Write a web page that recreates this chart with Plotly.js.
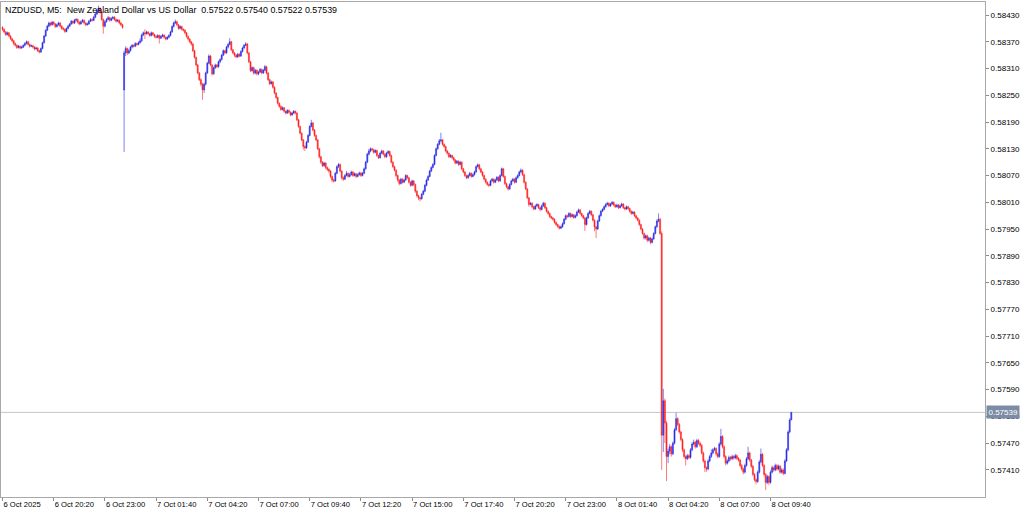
<!DOCTYPE html>
<html><head><meta charset="utf-8">
<script src="https://cdn.plot.ly/plotly-3.0.1.min.js"></script>
<style>html,body{margin:0;padding:0;background:#fff}#chart{width:1024px;height:511px}</style>
</head><body><div id="chart"></div>
<script>
// NZDUSD M5 bars, prices in points (1e-5), first bar 6 Oct 17:40
const opens = [
58402,58398,58392,58386,58390,58383,58377,58372,58366,58362,
58357,58360,58356,58358,58362,58366,58370,58364,58360,58361,
58358,58354,58356,58350,58347,58355,58368,58383,58396,58405,
58412,58408,58414,58410,58404,58408,58412,58405,58400,58398,
58393,58400,58405,58410,58416,58412,58418,58420,58414,58410,
58415,58418,58412,58408,58410,58416,58420,58418,58425,58432,
58440,58445,58436,58420,58405,58415,58420,58424,58418,58422,
58425,58420,58416,58418,58412,58408,58262,58345,58355,58345,
58350,58358,58362,58360,58366,58364,58368,58372,58385,58390,
58388,58392,58388,58384,58390,58386,58382,58380,58384,58378,
58382,58385,58380,58376,58380,58384,58392,58404,58412,58415,
58408,58400,58404,58398,58396,58390,58382,58376,58370,58365,
58350,58335,58318,58300,58285,58275,58262,58275,58300,58322,
58338,58318,58298,58312,58318,58314,58325,58330,58340,58350,
58345,58358,58364,58370,58352,58345,58340,58336,58342,58338,
58348,58356,58362,58365,58345,58325,58305,58312,58300,58306,
58298,58302,58308,58300,58306,58314,58300,58285,58276,58280,
58268,58255,58245,58232,58225,58218,58222,58214,58210,58216,
58212,58206,58210,58214,58210,58195,58180,58165,58150,58135,
58132,58145,58160,58180,58188,58172,58160,58150,58130,58112,
58100,58092,58098,58088,58084,58080,58068,58060,58058,58075,
58090,58095,58080,58065,58062,58070,58075,58068,58072,58078,
58070,58074,58068,58072,58076,58070,58075,58085,58100,58118,
58125,58130,58128,58122,58126,58115,58110,58120,58125,58118,
58112,58120,58124,58115,58100,58090,58082,58070,58060,58052,
58062,58055,58060,58070,58065,58055,58048,58058,58050,58035,
58025,58020,58018,58028,58035,58048,58060,58068,58080,58088,
58095,58115,58130,58140,58148,58150,58140,58135,58125,58120,
58112,58115,58110,58105,58098,58102,58095,58100,58085,58078,
58070,58065,58070,58075,58068,58072,58078,58090,58094,58085,
58078,58070,58062,58055,58050,58048,58058,58062,58055,58060,
58066,58058,58070,58085,58068,58052,58045,58040,58050,58058,
58062,58055,58065,58070,58078,58082,58072,58055,58040,58020,
58005,58008,58000,57995,58002,58005,57998,57994,58002,58008,
57998,57990,57985,57978,57975,57972,57965,57960,57956,57952,
57955,57962,57972,57980,57978,57985,57978,57982,57976,57980,
57988,57993,57985,57980,57975,57960,57975,57985,57990,57982,
57970,57955,57950,57968,57980,57990,57994,58000,58005,58008,
58002,58006,58010,58004,58000,58004,57998,58002,58006,57998,
57995,58000,57996,57990,57985,57988,57980,57975,57970,57960,
57950,57940,57930,57935,57925,57930,57920,57928,57940,57955,
57968,57972,57940,57488,57565,57515,57440,57452,57462,57446,
57470,57500,57525,57512,57495,57478,57455,57440,57435,57442,
57438,57455,57468,57472,57462,57476,57470,57465,57448,57430,
57415,57412,57430,57440,57448,57455,57458,57446,57440,57468,
57485,57462,57440,57425,57430,57438,57435,57440,57437,57442,
57436,57432,57420,57412,57405,57420,57435,57448,57432,57418,
57400,57388,57384,57405,57428,57445,57420,57400,57382,57395,
57382,57405,57415,57410,57420,57412,57418,57405,57410,57402,
57430,57455,57495,57522];
const highs = [
58405,58400,58394,58393,58392,58385,58379,58374,58368,58364,
58363,58362,58361,58364,58369,58373,58372,58366,58364,58363,
58360,58359,58358,58352,58357,58370,58385,58398,58408,58415,
58414,58417,58416,58412,58411,58415,58414,58407,58403,58400,
58402,58408,58412,58419,58418,58421,58423,58422,58416,58418,
58421,58420,58414,58413,58419,58423,58422,58428,58435,58444,
58451,58447,58438,58422,58418,58423,58428,58426,58425,58428,
58427,58422,58421,58420,58414,58410,58350,58360,58357,58354,
58361,58365,58364,58369,58368,58371,58378,58388,58393,58398,
58395,58394,58390,58393,58392,58388,58385,58387,58386,58385,
58388,58387,58382,58383,58387,58395,58407,58415,58420,58417,
58410,58407,58406,58400,58398,58392,58384,58378,58372,58367,
58352,58337,58320,58302,58288,58278,58278,58303,58325,58342,
58340,58320,58315,58321,58320,58328,58333,58343,58353,58352,
58361,58367,58378,58372,58354,58347,58342,58345,58344,58351,
58359,58365,58369,58367,58347,58327,58315,58314,58309,58308,
58305,58311,58310,58309,58318,58316,58302,58287,58283,58282,
58270,58257,58247,58234,58227,58225,58224,58216,58219,58218,
58214,58213,58217,58216,58212,58197,58182,58167,58152,58138,
58148,58163,58183,58195,58190,58174,58162,58152,58132,58114,
58102,58101,58100,58090,58086,58082,58070,58063,58078,58093,
58098,58097,58082,58068,58073,58080,58077,58076,58081,58080,
58077,58076,58075,58079,58078,58078,58088,58103,58121,58130,
58133,58132,58130,58129,58128,58117,58123,58128,58127,58120,
58123,58127,58126,58117,58102,58092,58084,58072,58062,58065,
58064,58063,58073,58072,58067,58057,58061,58060,58052,58037,
58027,58022,58031,58038,58051,58063,58071,58083,58091,58098,
58118,58133,58143,58152,58166,58152,58142,58137,58127,58122,
58118,58117,58112,58107,58105,58104,58103,58102,58087,58080,
58072,58073,58078,58077,58075,58081,58093,58097,58096,58087,
58080,58072,58064,58057,58052,58061,58065,58064,58063,58069,
58068,58073,58088,58087,58070,58054,58047,58053,58061,58065,
58064,58068,58073,58081,58086,58084,58074,58057,58042,58022,
58011,58010,58002,58005,58008,58007,58000,58005,58011,58010,
58000,57992,57987,57980,57977,57974,57967,57962,57958,57958,
57965,57975,57983,57982,57988,57987,57985,57984,57983,57991,
57996,57995,57987,57982,57977,57978,57988,57993,57992,57984,
57972,57957,57971,57983,57993,57997,58003,58008,58011,58010,
58009,58013,58012,58006,58007,58006,58005,58009,58008,58000,
58003,58002,57998,57992,57991,57990,57982,57977,57972,57962,
57952,57942,57938,57937,57933,57932,57931,57943,57958,57972,
57985,57975,57945,57592,57570,57520,57458,57468,57465,57474,
57504,57538,57528,57515,57498,57481,57458,57443,57446,57445,
57459,57472,57478,57475,57480,57479,57473,57468,57451,57433,
57418,57434,57444,57456,57459,57462,57461,57449,57472,57502,
57488,57465,57443,57434,57442,57441,57444,57443,57446,57445,
57439,57435,57423,57415,57424,57439,57462,57451,57435,57421,
57403,57391,57409,57432,57458,57448,57423,57403,57399,57398,
57409,57420,57418,57424,57423,57422,57421,57414,57413,57434,
57459,57499,57526,57540];
const lows = [
58394,58389,58383,58384,58380,58374,58369,58362,58359,58354,
58355,58353,58354,58356,58360,58364,58362,58357,58358,58355,
58351,58352,58347,58344,58345,58353,58366,58381,58394,58403,
58405,58406,58407,58401,58402,58406,58402,58397,58395,58390,
58391,58398,58403,58408,58409,58410,58415,58411,58407,58408,
58413,58409,58405,58406,58408,58414,58415,58416,58423,58430,
58438,58433,58417,58388,58402,58413,58418,58415,58416,58420,
58417,58413,58414,58409,58405,58399,58123,58338,58340,58342,
58348,58355,58357,58358,58361,58362,58366,58370,58383,58376,
58386,58385,58381,58382,58383,58379,58377,58378,58366,58376,
58380,58377,58373,58374,58378,58382,58390,58402,58410,58405,
58397,58398,58395,58393,58387,58379,58373,58367,58361,58347,
58332,58315,58297,58282,58270,58240,58255,58272,58298,58320,
58315,58294,58296,58309,58311,58312,58322,58328,58338,58342,
58343,58355,58362,58349,58342,58336,58333,58334,58335,58336,
58346,58354,58360,58342,58322,58302,58303,58296,58297,58294,
58295,58300,58297,58298,58304,58297,58282,58273,58274,58265,
58252,58242,58229,58222,58215,58216,58211,58207,58208,58209,
58203,58204,58208,58207,58192,58177,58162,58147,58128,58125,
58130,58143,58158,58178,58169,58157,58147,58127,58108,58096,
58089,58090,58084,58080,58076,58064,58055,58054,58056,58073,
58087,58077,58061,58058,58060,58068,58065,58066,58070,58067,
58068,58064,58066,58070,58067,58068,58073,58083,58098,58115,
58122,58124,58119,58120,58112,58107,58108,58118,58115,58109,
58110,58118,58112,58097,58087,58079,58066,58056,58048,58050,
58052,58053,58058,58062,58052,58045,58046,58046,58031,58021,
58015,58012,58016,58026,58033,58046,58058,58066,58078,58086,
58093,58113,58128,58138,58145,58137,58132,58122,58117,58109,
58110,58107,58102,58095,58096,58092,58093,58082,58075,58067,
58062,58063,58068,58065,58066,58070,58076,58088,58082,58075,
58067,58059,58052,58047,58044,58046,58056,58052,58053,58058,
58055,58056,58068,58065,58049,58042,58036,58038,58048,58056,
58052,58053,58063,58068,58076,58069,58052,58037,58017,58000,
58003,57997,57992,57993,58000,57995,57990,57992,58000,57995,
57987,57982,57975,57972,57969,57962,57957,57953,57949,57950,
57953,57960,57970,57975,57976,57975,57976,57973,57974,57978,
57986,57982,57977,57972,57946,57958,57973,57983,57979,57967,
57945,57930,57948,57966,57978,57988,57992,57998,58003,57999,
58000,58004,58001,57997,57998,57995,57996,58000,57995,57992,
57993,57993,57987,57982,57983,57977,57972,57967,57957,57947,
57937,57926,57927,57921,57922,57916,57918,57926,57938,57953,
57965,57937,57410,57450,57470,57385,57425,57445,57440,57443,
57467,57497,57508,57491,57474,57450,57436,57420,57432,57434,
57435,57452,57465,57458,57459,57466,57461,57444,57426,57405,
57406,57409,57427,57437,57445,57452,57442,57436,57437,57465,
57458,57436,57420,57422,57427,57431,57432,57433,57434,57432,
57428,57416,57408,57400,57402,57417,57432,57428,57414,57396,
57384,57378,57381,57402,57425,57416,57395,57365,57378,57376,
57379,57402,57406,57407,57408,57409,57401,57402,57398,57400,
57428,57452,57492,57522];
const closes = [
58398,58392,58386,58390,58383,58377,58372,58366,58362,58357,
58360,58356,58358,58362,58366,58370,58364,58360,58361,58358,
58354,58356,58350,58347,58355,58368,58383,58396,58405,58412,
58408,58414,58410,58404,58408,58412,58405,58400,58398,58393,
58400,58405,58410,58416,58412,58418,58420,58414,58410,58415,
58418,58412,58408,58410,58416,58420,58418,58425,58432,58440,
58445,58436,58420,58405,58415,58420,58424,58418,58422,58425,
58420,58416,58418,58412,58408,58402,58345,58355,58345,58350,
58358,58362,58360,58366,58364,58368,58372,58385,58390,58388,
58392,58388,58384,58390,58386,58382,58380,58384,58378,58382,
58385,58380,58376,58380,58384,58392,58404,58412,58415,58408,
58400,58404,58398,58396,58390,58382,58376,58370,58365,58350,
58335,58318,58300,58285,58275,58262,58275,58300,58322,58338,
58318,58298,58312,58318,58314,58325,58330,58340,58350,58345,
58358,58364,58370,58352,58345,58340,58336,58342,58338,58348,
58356,58362,58365,58345,58325,58305,58312,58300,58306,58298,
58302,58308,58300,58306,58314,58300,58285,58276,58280,58268,
58255,58245,58232,58225,58218,58222,58214,58210,58216,58212,
58206,58210,58214,58210,58195,58180,58165,58150,58135,58132,
58145,58160,58180,58188,58172,58160,58150,58130,58112,58100,
58092,58098,58088,58084,58080,58068,58060,58058,58075,58090,
58095,58080,58065,58062,58070,58075,58068,58072,58078,58070,
58074,58068,58072,58076,58070,58075,58085,58100,58118,58125,
58130,58128,58122,58126,58115,58110,58120,58125,58118,58112,
58120,58124,58115,58100,58090,58082,58070,58060,58052,58062,
58055,58060,58070,58065,58055,58048,58058,58050,58035,58025,
58020,58018,58028,58035,58048,58060,58068,58080,58088,58095,
58115,58130,58140,58148,58150,58140,58135,58125,58120,58112,
58115,58110,58105,58098,58102,58095,58100,58085,58078,58070,
58065,58070,58075,58068,58072,58078,58090,58094,58085,58078,
58070,58062,58055,58050,58048,58058,58062,58055,58060,58066,
58058,58070,58085,58068,58052,58045,58040,58050,58058,58062,
58055,58065,58070,58078,58082,58072,58055,58040,58020,58005,
58008,58000,57995,58002,58005,57998,57994,58002,58008,57998,
57990,57985,57978,57975,57972,57965,57960,57956,57952,57955,
57962,57972,57980,57978,57985,57978,57982,57976,57980,57988,
57993,57985,57980,57975,57960,57975,57985,57990,57982,57970,
57955,57950,57968,57980,57990,57994,58000,58005,58008,58002,
58006,58010,58004,58000,58004,57998,58002,58006,57998,57995,
58000,57996,57990,57985,57988,57980,57975,57970,57960,57950,
57940,57930,57935,57925,57930,57920,57928,57940,57955,57968,
57972,57940,57488,57565,57515,57440,57452,57462,57446,57470,
57500,57525,57512,57495,57478,57455,57440,57435,57442,57438,
57455,57468,57472,57462,57476,57470,57465,57448,57430,57415,
57412,57430,57440,57448,57455,57458,57446,57440,57468,57485,
57462,57440,57425,57430,57438,57435,57440,57437,57442,57436,
57432,57420,57412,57405,57420,57435,57448,57432,57418,57400,
57388,57384,57405,57428,57445,57420,57400,57382,57395,57382,
57405,57415,57410,57420,57412,57418,57405,57410,57402,57430,
57455,57495,57522,57539];

// x-axis labels (bar index of each label, 32 bars = 2h40m apart)
const xTickBars = [0,32,64,96,128,160,192,224,256,288,320,352,384,416,448,480];
const xTickLabels = ['6 Oct 2025','6 Oct 20:20','6 Oct 23:00','7 Oct 01:40','7 Oct 04:20','7 Oct 07:00',
  '7 Oct 09:40','7 Oct 12:20','7 Oct 15:00','7 Oct 17:40','7 Oct 20:20','7 Oct 23:00',
  '8 Oct 01:40','8 Oct 04:20','8 Oct 07:00','8 Oct 09:40'];
const yTickVals = [0.58430,0.58370,0.58310,0.58250,0.58190,0.58130,0.58070,0.58010,0.57950,
  0.57890,0.57830,0.57770,0.57710,0.57650,0.57590,0.57530,0.57470,0.57410];
const lastPrice = 0.57539;
const headerText = 'NZDUSD, M5:\u00a0 New Zealand Dollar vs US Dollar\u00a0 0.57522 0.57540 0.57522 0.57539';

const P = v => v / 100000;
const xIdx = closes.map((_, i) => i);
const FONT = 'Liberation Sans, Arial, sans-serif';

const trace = {
  type: 'candlestick',
  x: xIdx,
  open: opens.map(P), high: highs.map(P), low: lows.map(P), close: closes.map(P),
  increasing: {line: {color: 'rgba(45,45,232,0.6)', width: 1}, fillcolor: '#2a2ae6'},
  decreasing: {line: {color: 'rgba(255,35,35,0.6)', width: 1}, fillcolor: '#ff2323'},
  whiskerwidth: 0,
  hoverinfo: 'skip',
  showlegend: false
};

const layout = {
  width: 1024, height: 511,
  margin: {l: 1, r: 39, t: 2, b: 14},
  paper_bgcolor: '#ffffff', plot_bgcolor: '#ffffff',
  showlegend: false,
  boxgap: 0.12,
  xaxis: {
    type: 'linear', range: [-0.94, 614.06],
    tickmode: 'array', tickvals: xTickBars, ticktext: xTickLabels,
    ticks: 'outside', ticklen: 3, tickcolor: '#8c8c8c', tickwidth: 1,
    ticklabelposition: 'outside right',
    tickfont: {family: FONT, size: 7.6, color: '#000'},
    showgrid: false, zeroline: false,
    showline: true, mirror: true, linecolor: '#a8a8a8', linewidth: 1,
    rangeslider: {visible: false}, fixedrange: true
  },
  yaxis: {
    side: 'right', range: [0.5734928, 0.5845915],
    tickmode: 'array', tickvals: yTickVals, ticktext: yTickVals.map(v => v.toFixed(5)),
    ticks: 'outside', ticklen: 3, tickcolor: '#8c8c8c', tickwidth: 1,
    tickfont: {family: FONT, size: 8, color: '#000'},
    showgrid: false, zeroline: false,
    showline: true, mirror: true, linecolor: '#a8a8a8', linewidth: 1,
    fixedrange: true
  },
  shapes: [{
    type: 'line', xref: 'paper', x0: 0, x1: 1, yref: 'y', y0: lastPrice, y1: lastPrice,
    line: {color: '#c4c4c4', width: 1}, layer: 'below'
  }],
  annotations: [
    {xref: 'paper', yref: 'paper', x: 0, y: 1, xanchor: 'left', yanchor: 'top',
     xshift: 2, yshift: -1, showarrow: false, text: headerText,
     font: {family: FONT, size: 8.9, color: '#000'}},
    {xref: 'paper', yref: 'y', x: 1, y: lastPrice, xanchor: 'left', yanchor: 'middle',
     xshift: 1, showarrow: false, text: lastPrice.toFixed(5), bgcolor: '#7c8ca4',
     borderpad: 1.5, font: {family: FONT, size: 8, color: '#ffffff'}}
  ]
};

Plotly.newPlot('chart', [trace], layout, {staticPlot: true, displayModeBar: false});
</script>
</body></html>
